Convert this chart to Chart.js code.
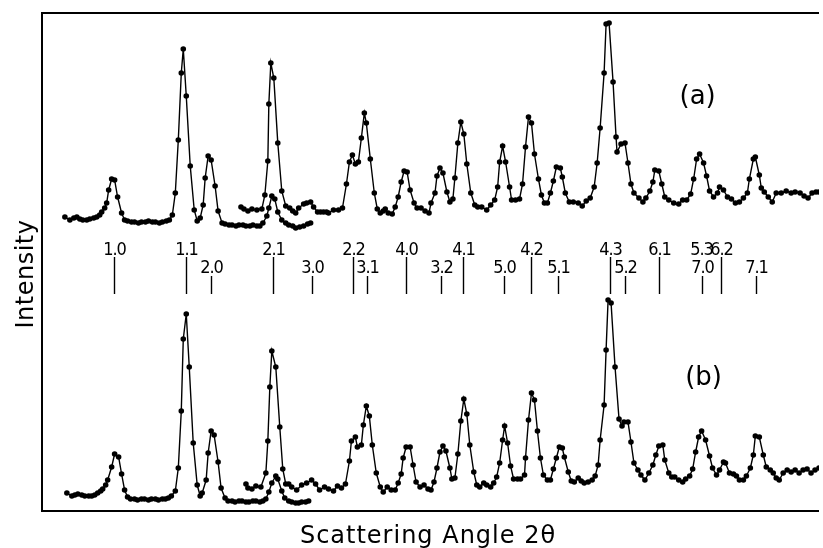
<!DOCTYPE html>
<html>
<head>
<meta charset="utf-8">
<script src="https://cdn.jsdelivr.net/npm/chart.js@4/dist/chart.umd.min.js"></script>
<style>
  html, body { margin: 0; padding: 0; background: #fff; }
  canvas { display: block; }
</style>
</head>
<body>
<canvas id="scan" width="823" height="548"></canvas>
<script>
// scattering angle (arbitrary deg units) and intensity (arbitrary units)
// trace (a): two overlapping runs
const a1X = [2.2,2.7,3.1,3.4,3.7,4.0,4.4,4.7,5.1,5.4, 5.7,5.9,6.2,6.4,6.6,6.9,7.2,7.5,7.9,8.2,
  8.5,8.9,9.2,9.6,9.9,10.3,10.6,11.0,11.3,11.7, 12.0,12.4,12.7,13.0,13.3,13.6,13.9,14.1,14.4,14.8,
  15.2,15.5,15.8,16.1,16.3,16.6,16.9,17.3,17.6,18.0, 18.3,18.7,19.0,19.4,19.7,20.1,20.4,20.8,21.1,21.5,
  21.8,22.1,22.5,22.7,23.0,23.3,23.6,24.0,24.4,24.7, 25.1,25.4,25.8,26.2,26.6,26.9];
const a1Y = [29.5,29.2,29.4,29.5,29.3,29.2,29.2,29.3,29.4,29.5, 29.7,30.0,30.4,30.9,32.2,33.3,33.2,31.5,29.9,29.2,
  29.1,29.0,29.0,28.9,29.0,29.0,29.1,29.0,29.0,28.9, 29.0,29.1,29.2,29.7,31.9,37.2,43.9,46.3,41.6,34.6,
  30.2,29.1,29.4,30.7,33.4,35.6,35.2,32.6,30.1,28.9, 28.8,28.7,28.7,28.6,28.7,28.7,28.6,28.6,28.7,28.6,
  28.6,28.9,29.6,30.4,31.6,31.3,30.0,29.2,28.9,28.7, 28.6,28.4,28.5,28.6,28.8,28.9];

const a2X = [19.9,20.2,20.6,21.0,21.5,22.0,22.3,22.6,22.7,22.9, 23.2,23.6,24.0,24.4,24.8,25.1,25.4,25.7,26.2,26.5,
  26.9,27.2,27.6,27.9,28.2,28.5,28.7,29.2,29.7,30.1, 30.5,30.8,31.1,31.4,31.7,32.0,32.3,32.5,32.9,33.3,
  33.6,33.9,34.2,34.4,34.7,35.1,35.4,35.7,36.0,36.3, 36.6,36.9,37.3,37.6,38.0,38.4,38.8,39.0,39.4,39.6,
  39.9,40.2,40.6,40.9,41.2,41.4,41.7,42.0,42.3,42.6, 43.0,43.4,43.7,44.1,44.6,45.0,45.4,45.7,45.9,46.2,
  46.5,46.9,47.1,47.5,47.9,48.2,48.5,48.8,49.1,49.4, 49.8,50.1,50.4,50.7,51.0,51.3,51.6,52.0,52.2,52.5,
  52.9,53.3,53.8,54.2,54.6,55.0,55.4,55.7,56.0,56.4, 56.6,56.9,57.3,57.6,57.7,58.1,58.5,58.8,59.1,59.4,
  59.9,60.3,60.6,61.0,61.3,61.5,61.9,62.2,62.5,62.9, 63.4,63.9,64.3,64.7,65.1,65.4,65.7,66.0,66.4,66.7,
  67.0,67.4,67.8,68.0,68.4,68.8,69.2,69.6,70.0,70.4, 70.8,71.0,71.4,71.6,72.0,72.2,72.5,72.9,73.3,73.7,
  74.2,74.7,75.2,75.6,76.1,76.5,76.9,77.3,77.7,78.0];
const a2Y = [30.5,30.3,30.1,30.3,30.2,30.3,31.7,35.1,40.8,44.9, 43.4,36.9,32.1,30.6,30.4,30.1,29.9,30.4,30.8,30.9,
  31.0,30.5,30.0,30.0,30.0,30.0,29.9,30.2,30.2,30.4, 32.8,35.0,35.7,34.8,35.0,37.4,39.9,38.9,35.3,31.9,
  30.3,29.9,30.1,30.3,29.9,29.8,30.5,31.5,33.0,34.1, 34.0,32.2,30.9,30.4,30.4,30.1,29.9,30.9,31.9,33.6,
  34.4,33.9,32.0,31.0,31.3,33.4,36.9,39.0,37.8,34.8, 31.9,30.7,30.5,30.5,30.2,30.7,31.2,32.5,35.0,36.6,
  35.0,32.5,31.2,31.2,31.3,32.8,36.5,39.5,38.9,35.8, 33.3,31.7,30.9,30.9,31.9,33.1,34.5,34.4,33.5,31.9,
  31.0,31.0,30.9,30.6,31.1,31.4,32.5,34.9,38.4,43.9, 48.8,48.9,43.0,37.5,36.0,36.8,36.9,34.9,32.8,31.9,
  31.4,31.0,31.4,32.1,33.0,34.2,34.1,32.8,31.5,31.2, 30.9,30.8,31.2,31.2,31.8,33.3,35.3,35.8,34.9,33.6,
  32.1,31.5,31.9,32.5,32.2,31.5,31.3,30.9,31.0,31.4, 31.9,33.3,35.3,35.5,33.7,32.4,32.0,31.5,31.0,31.9,
  31.9,32.1,31.9,32.0,31.9,31.6,31.4,31.9,32.0,32.0];

// trace (b)
const b1X = [2.4,2.9,3.2,3.5,3.9,4.2,4.6,4.9,5.2,5.5, 5.8,6.0,6.3,6.5,6.9,7.2,7.6,7.9,8.2,8.5,
  8.8,9.2,9.5,9.9,10.2,10.6,10.9,11.3,11.6,12.0, 12.3,12.6,12.9,13.3,13.6,13.9,14.1,14.4,14.7,15.1,
  15.5,15.8,16.0,16.4,16.6,16.9,17.2,17.6,17.9,18.3, 18.6,19.0,19.3,19.7,20.0,20.4,20.7,21.1,21.4,21.8,
  22.1,22.4,22.7,23.0,23.4,23.6,24.0,24.3,24.7,25.0, 25.4,25.7,26.0,26.4,26.7];
const b1Y = [1.9,1.6,1.7,1.8,1.7,1.6,1.6,1.6,1.7,1.9, 2.1,2.3,2.7,3.2,4.5,5.8,5.5,3.8,2.2,1.5,
  1.3,1.3,1.2,1.3,1.3,1.2,1.3,1.3,1.2,1.3, 1.3,1.4,1.6,2.1,4.4,10.1,17.3,19.8,14.5,6.9,
  2.7,1.6,1.9,3.2,5.9,8.1,7.7,5.0,2.4,1.4, 1.1,1.1,1.0,1.1,1.1,1.0,1.0,1.1,1.1,1.0,
  1.1,1.3,2.0,2.9,3.6,3.3,2.1,1.4,1.1,1.0, 0.9,0.9,1.0,1.0,1.1];

const b2X = [20.4,20.6,21.0,21.4,21.9,22.4,22.6,22.8,23.0,23.4, 23.8,24.1,24.4,24.7,25.0,25.5,26.0,26.5,27.0,27.4,
  27.8,28.3,28.7,29.2,29.6,30.0,30.4,30.8,31.0,31.4, 31.6,32.0,32.2,32.5,32.8,33.1,33.5,33.9,34.2,34.6,
  35.0,35.4,35.7,36.0,36.2,36.5,36.9,37.2,37.5,37.9, 38.3,38.7,39.0,39.3,39.6,39.9,40.2,40.5,40.9,41.1,
  41.4,41.7,42.0,42.3,42.6,42.9,43.3,43.6,43.9,44.3, 44.6,45.0,45.3,45.6,45.9,46.2,46.4,46.7,47.0,47.3,
  47.7,48.0,48.4,48.5,48.8,49.1,49.4,49.7,50.0,50.3, 50.7,51.0,51.3,51.6,51.9,52.2,52.4,52.8,53.1,53.4,
  53.8,54.1,54.4,54.8,55.2,55.5,55.8,56.0,56.4,56.6, 56.8,57.1,57.5,57.9,58.2,58.4,58.8,59.1,59.4,59.8,
  60.1,60.5,60.9,61.3,61.6,61.9,62.3,62.5,62.9,63.2, 63.5,63.9,64.3,64.6,65.0,65.3,65.6,65.9,66.2,66.6,
  67.0,67.3,67.7,68.0,68.4,68.6,69.0,69.4,69.7,70.0, 70.4,70.7,71.1,71.4,71.6,72.0,72.4,72.7,73.1,73.4,
  73.7,74.0,74.4,74.8,75.2,75.6,76.0,76.4,76.8,77.2, 77.6,78.0];
const b2Y = [2.8,2.4,2.3,2.6,2.5,3.9,7.1,12.5,16.1,14.5, 8.5,4.3,2.8,2.8,2.5,2.2,2.7,2.9,3.2,2.8,
  2.2,2.5,2.3,2.1,2.6,2.4,2.8,5.1,7.1,7.5, 6.5,6.7,8.7,10.6,9.6,6.7,3.9,2.5,2.0,2.5,
  2.2,2.2,2.9,3.8,5.4,6.5,6.5,4.7,3.0,2.5, 2.7,2.3,2.2,3.0,4.4,6.0,6.6,6.1,4.4,3.3,
  3.4,5.8,9.1,11.3,9.8,6.7,4.0,2.7,2.5,2.9, 2.7,2.5,2.9,3.5,4.9,7.2,8.6,6.9,4.6,3.3,
  3.3,3.3,3.7,5.4,9.2,11.9,11.2,8.1,5.4,3.7, 3.2,3.2,4.3,5.4,6.5,6.4,5.5,4.0,3.1,3.0,
  3.4,3.1,2.9,3.0,3.2,3.6,4.7,7.2,10.7,16.2, 21.2,20.9,14.5,9.3,8.6,9.0,9.0,7.0,4.9,4.2,
  3.7,3.2,3.9,4.7,5.7,6.6,6.7,5.2,3.9,3.5, 3.5,3.2,3.0,3.3,3.6,4.3,6.0,7.5,8.1,7.2,
  5.6,4.4,3.7,4.2,5.0,4.9,3.9,3.8,3.6,3.2, 3.2,3.6,4.4,5.7,7.6,7.5,5.7,4.5,4.2,3.9,
  3.4,3.2,3.9,4.2,4.0,4.2,3.9,4.2,4.3,3.9, 4.2,4.4];

// reflection indices: label, angle, row (0 upper, 1 lower, 2 upper label without its own bar)
const hkLabels = ['1.0','1.1','2.0','2.1','3.0','2.2','3.1','4.0','3.2','4.1','5.0','4.2',
  '5.1','4.3','5.2','6.1','5.3','7.0','6.2','7.1'];
const hkAngles = [7.17,14.37,16.9,23.13,27.0,31.2,32.53,36.47,39.97,42.2,46.37,49.03,
  51.77,56.97,58.53,61.87,66.1,66.2,68.1,71.7];
const hkRows = [0,0,1,0,1,0,1,0,1,0,1,0,1,0,1,0,2,1,0,1];

function toPoints(xs, ys) {
  return xs.map((x, i) => ({ x: x, y: ys[i] })).filter(p => p.y !== undefined);
}

const ink = '#000';

const annotate = {
  id: 'annotate',
  afterDraw(chart) {
    const { ctx, chartArea: area, scales: { x, y } } = chart;
    ctx.save();
    ctx.strokeStyle = ink;
    ctx.fillStyle = ink;

    // frame (no right edge, it runs off the page)
    ctx.lineWidth = 2;
    ctx.beginPath();
    ctx.moveTo(area.right, area.top + 1);
    ctx.lineTo(area.left - 1, area.top + 1);
    ctx.lineTo(area.left - 1, area.bottom - 1);
    ctx.lineTo(area.right, area.bottom - 1);
    ctx.stroke();

    // index bars and labels
    ctx.font = '18px "Liberation Sans Narrow", "DejaVu Sans Condensed", sans-serif';
    ctx.letterSpacing = '-1px';
    ctx.textAlign = 'center';
    ctx.textBaseline = 'alphabetic';
    ctx.lineWidth = 1.4;
    const barBottom = y.getPixelForValue(21.8);
    hkLabels.forEach((t, i) => {
      const px = Math.round(x.getPixelForValue(hkAngles[i])) + 0.5;
      const row = hkRows[i];
      const base = y.getPixelForValue(row === 1 ? 23.9 : 25.7);
      ctx.fillText(t, px, base);
      if (row !== 2) {
        ctx.beginPath();
        ctx.moveTo(px, y.getPixelForValue(row === 1 ? 23.6 : 25.5));
        ctx.lineTo(px, barBottom);
        ctx.stroke();
      }
    });
    ctx.letterSpacing = '0px';

    // panel tags
    ctx.font = '26px "DejaVu Sans", sans-serif';
    ctx.fillText('(a)', x.getPixelForValue(65.8), y.getPixelForValue(40.8));
    ctx.fillText('(b)', x.getPixelForValue(66.4), y.getPixelForValue(12.7));

    // axis titles
    ctx.font = '24px "DejaVu Sans", sans-serif';
    ctx.letterSpacing = '1px';
    ctx.fillText('Scattering Angle 2\u03b8', 428, 543);
    ctx.translate(33, 274);
    ctx.rotate(-Math.PI / 2);
    ctx.letterSpacing = '0.5px';
    ctx.fillText('Intensity', 0, 0);
    ctx.restore();
  }
};

const series = [[a1X, a1Y], [a2X, a2Y], [b1X, b1Y], [b2X, b2Y]];

new Chart(document.getElementById('scan'), {
  type: 'line',
  data: {
    datasets: series.map(s => ({
      data: toPoints(s[0], s[1]),
      borderColor: ink,
      borderWidth: 1.4,
      backgroundColor: ink,
      pointBackgroundColor: ink,
      pointBorderWidth: 0,
      pointRadius: 2.8,
      tension: 0
    }))
  },
  options: {
    responsive: false,
    animation: false,
    parsing: false,
    layout: { padding: { left: 43, top: 12, right: 0, bottom: 36 } },
    scales: {
      x: { type: 'linear', min: 0, max: 78, display: false },
      y: { type: 'linear', min: 0, max: 50, display: false }
    },
    plugins: { legend: { display: false }, tooltip: { enabled: false } }
  },
  plugins: [annotate]
});
</script>
</body>
</html>
